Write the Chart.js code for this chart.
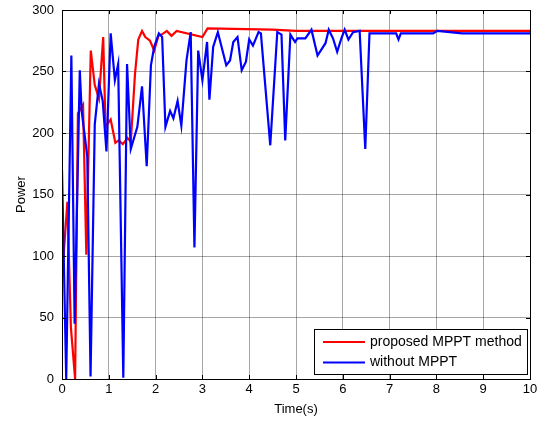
<!DOCTYPE html>
<html>
<head>
<meta charset="utf-8">
<script src="https://cdn.jsdelivr.net/npm/chart.js@4"></script>
<style>
  html, body { margin: 0; padding: 0; background: #fff; }
  #wrap { width: 544px; height: 421px; }
</style>
</head>
<body>
<div id="wrap"><canvas id="powerChart" width="544" height="421"></canvas></div>
<script>
        // time (s) and power
        const redTime = [0, 0.115, 0.19, 0.28, 0.34, 0.45, 0.52, 0.615, 0.70, 0.79, 0.88, 0.93, 1.04, 1.14, 1.21, 1.30, 1.40, 1.47, 1.56, 1.63, 1.71, 1.78, 1.88, 1.97, 2.06, 2.13, 2.24, 2.34, 2.45, 3.0, 3.11, 4.5, 5.0, 10];
        const redPower = [82, 144, 42, 0, 216, 223, 101, 267, 239, 228, 278, 205, 211, 192, 194, 191, 196, 193, 248, 276, 283, 278, 275, 267, 279, 280, 283, 279, 283, 278, 285, 284, 283, 283];

        const blueTime = [0, 0.09, 0.2, 0.27, 0.38, 0.42, 0.54, 0.61, 0.70, 0.79, 0.87, 0.95, 1.04, 1.13, 1.20, 1.31, 1.39, 1.47, 1.61, 1.71,
            1.81, 1.90, 1.97, 2.07, 2.14, 2.21, 2.31, 2.38, 2.47, 2.55, 2.66, 2.75, 2.83, 2.91, 3.0, 3.10, 3.15, 3.23, 3.33, 3.51,
            3.59, 3.66, 3.75, 3.84, 3.93, 4.0, 4.08, 4.20, 4.25, 4.45, 4.60, 4.69, 4.77, 4.88, 4.98, 5.03, 5.20, 5.33, 5.46, 5.63,
            5.70, 5.79, 5.88, 5.97, 6.04, 6.12, 6.22, 6.36, 6.48, 6.57, 7.14, 7.19, 7.24, 7.93, 8.02, 8.55, 10];
        const bluePower = [170, 0, 263, 45, 251, 218, 181, 2, 207, 240, 226, 185, 281, 243, 256, 1, 256, 187, 205, 238,
            173, 255, 270, 281, 278, 205, 218, 212, 226, 206, 259, 282, 107, 267, 243, 274, 227, 270, 282, 255,
            259, 274, 278, 251, 258, 276, 271, 282, 281, 190, 282, 280, 194, 280, 274, 277, 277, 284, 263, 273,
            284, 277, 266, 277, 284, 276, 282, 283, 187, 281, 281, 276, 281, 281, 283, 281, 281];

        const xTicks = [0, 1, 2, 3, 4, 5, 6, 7, 8, 9, 10];
        const yTicks = [0, 50, 100, 150, 200, 250, 300];
        const seriesNames = ['proposed MPPT method', 'without MPPT'];
        const seriesColors = ['#ff0000', '#0000ff'];

        const toPoints = (ts, ps) => ts.map((t, i) => ({ x: t, y: ps[i] }));

        // matlab style frame, inward ticks and boxed legend
        const matlabFrame = {
            id: 'matlabFrame',
            afterDraw(chart) {
                const ctx = chart.ctx;
                const a = chart.chartArea;
                const xs = chart.scales.x, ys = chart.scales.y;
                ctx.save();
                ctx.strokeStyle = '#000';
                ctx.lineWidth = 1;
                ctx.beginPath();
                xTicks.forEach(v => {
                    const px = Math.round(xs.getPixelForValue(v)) + 0.5;
                    ctx.moveTo(px, a.bottom); ctx.lineTo(px, a.bottom - 4);
                    ctx.moveTo(px, a.top); ctx.lineTo(px, a.top + 4);
                });
                yTicks.forEach(v => {
                    const py = Math.round(ys.getPixelForValue(v)) + 0.5;
                    ctx.moveTo(a.left, py); ctx.lineTo(a.left + 4, py);
                    ctx.moveTo(a.right, py); ctx.lineTo(a.right - 4, py);
                });
                ctx.stroke();
                ctx.strokeRect(Math.round(a.left) + 0.5, Math.round(a.top) + 0.5,
                    Math.round(a.right - a.left), Math.round(a.bottom - a.top));

                // legend
                const lx = 314.5, ly = 329.5, lw = 213, lh = 45;
                ctx.fillStyle = '#fff';
                ctx.fillRect(lx, ly, lw, lh);
                ctx.strokeRect(lx, ly, lw, lh);
                ctx.font = '14px "Liberation Sans", Arial, sans-serif';
                ctx.textBaseline = 'middle';
                seriesNames.forEach((name, i) => {
                    const yy = 342 + i * 20.5;
                    ctx.strokeStyle = seriesColors[i];
                    ctx.lineWidth = 2;
                    ctx.beginPath();
                    ctx.moveTo(323, yy); ctx.lineTo(365, yy);
                    ctx.stroke();
                    ctx.fillStyle = '#000';
                    ctx.fillText(name, 370, yy);
                });
                ctx.restore();
            }
        };

        const data = {
            datasets: [
                {
                    label: seriesNames[0],
                    data: toPoints(redTime, redPower),
                    borderColor: seriesColors[0],
                    order: 1
                },
                {
                    label: seriesNames[1],
                    data: toPoints(blueTime, bluePower),
                    borderColor: seriesColors[1],
                    order: 0
                }
            ]
        };

        const config = {
            type: 'line',
            data: data,
            options: {
                responsive: false,
                animation: false,
                layout: { padding: { top: 10, right: 14, left: 0, bottom: 0 } },
                elements: {
                    point: { radius: 0 },
                    line: { borderWidth: 2.2, tension: 0 }
                },
                plugins: {
                    legend: { display: false },
                    tooltip: { enabled: false }
                },
                scales: {
                    x: {
                        type: 'linear',
                        min: 0, max: 10,
                        afterFit: s => { s.height = 42; s.paddingLeft = 0; s.paddingRight = 0; },
                        afterBuildTicks: s => { s.ticks = xTicks.map(v => ({ value: v })); },
                        ticks: { color: '#000', padding: 3, maxRotation: 0, font: { family: '"Liberation Sans", Arial', size: 13 } },
                        grid: { color: 'rgba(0,0,0,0.35)', drawTicks: false },
                        border: { display: false },
                        title: { display: true, text: 'Time(s)', color: '#000', padding: { top: 0, bottom: 4 }, font: { family: '"Liberation Sans", Arial', size: 13 } }
                    },
                    y: {
                        min: 0, max: 300,
                        afterFit: s => { s.width = 62; s.paddingTop = 0; s.paddingBottom = 0; },
                        afterBuildTicks: s => { s.ticks = yTicks.map(v => ({ value: v })); },
                        ticks: { color: '#000', padding: 8, font: { family: '"Liberation Sans", Arial', size: 13 } },
                        grid: { color: 'rgba(0,0,0,0.35)', drawTicks: false },
                        border: { display: false },
                        title: { display: true, text: 'Power', color: '#000', padding: { top: 14, bottom: 0 }, font: { family: '"Liberation Sans", Arial', size: 13 } }
                    }
                }
            },
            plugins: [matlabFrame]
        };
        new Chart(document.getElementById('powerChart'), config);
</script>
</body>
</html>
